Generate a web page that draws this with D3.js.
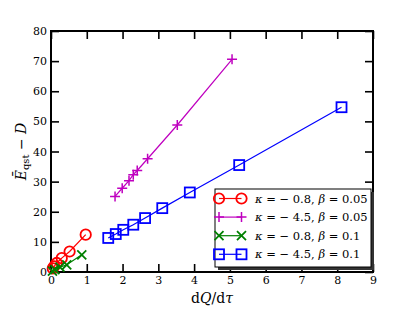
<!DOCTYPE html>
<html>
<head>
<meta charset="utf-8">
<script src="https://cdn.jsdelivr.net/npm/d3@7/dist/d3.min.js"></script>
<style>
  html, body { margin: 0; padding: 0; background: #fff; }
  svg { display: block; }
  text { font-family: "DejaVu Serif", "Liberation Serif", serif; fill: #000; }
</style>
</head>
<body>
<div id="chart"></div>
<script>
"use strict";

// values
const xTicks = [0, 1, 2, 3, 4, 5, 6, 7, 8, 9];
const yTicks = [0, 10, 20, 30, 40, 50, 60, 70, 80];

const redX = [0.05, 0.09, 0.16, 0.30, 0.52, 0.97];
const redY = [1.2, 1.9, 3.0, 4.6, 6.8, 12.4];

const magentaX = [1.79, 1.99, 2.18, 2.30, 2.41, 2.70, 3.53, 5.06];
const magentaY = [25.1, 27.8, 30.3, 32.3, 33.7, 37.6, 48.8, 70.6];

const greenX = [0.04, 0.11, 0.25, 0.44, 0.86];
const greenY = [0.3, 0.8, 1.6, 2.4, 5.7];

const blueX = [1.60, 1.81, 2.02, 2.30, 2.63, 3.11, 3.88, 5.26, 8.12];
const blueY = [11.3, 12.6, 14.0, 15.7, 17.9, 21.2, 26.4, 35.5, 54.7];

const seriesKappa = ["\u22120.8", "\u22124.5", "\u22120.8", "\u22124.5"];
const seriesBeta = ["0.05", "0.05", "0.1", "0.1"];

const series = [
  { xs: redX, ys: redY, color: "#ff0000", marker: "circle" },
  { xs: magentaX, ys: magentaY, color: "#bf00bf", marker: "plus" },
  { xs: greenX, ys: greenY, color: "#008000", marker: "cross" },
  { xs: blueX, ys: blueY, color: "#0000ff", marker: "square" },
];

const W = 415, H = 314;
const margin = { left: 51, top: 31, right: 42, bottom: 42 };
const iw = W - margin.left - margin.right;
const ih = H - margin.top - margin.bottom;

const svg = d3.select("#chart").append("svg").attr("width", W).attr("height", H);
const g = svg.append("g").attr("transform", "translate(" + margin.left + "," + margin.top + ")");

const x = d3.scaleLinear().domain([0, 9]).range([0, iw]);
const y = d3.scaleLinear().domain([0, 80]).range([ih, 0]);

const tickLen = 8;
function styleAxis(sel, hideText) {
  sel.select(".domain").remove();
  sel.selectAll(".tick line").attr("stroke", "#000").attr("stroke-width", 1.6);
  sel.selectAll(".tick text").style("font-size", "11px");
  if (hideText) sel.selectAll(".tick text").remove();
}

g.append("g").attr("transform", "translate(0," + ih + ")")
  .call(d3.axisBottom(x).tickValues(xTicks).tickSizeInner(-tickLen).tickSizeOuter(0).tickPadding(4).tickFormat(d3.format("d")))
  .call(styleAxis, false);
g.append("g")
  .call(d3.axisTop(x).tickValues(xTicks).tickSizeInner(-tickLen).tickSizeOuter(0))
  .call(styleAxis, true);
g.append("g")
  .call(d3.axisLeft(y).tickValues(yTicks).tickSizeInner(-tickLen).tickSizeOuter(0).tickPadding(4).tickFormat(d3.format("d")))
  .call(styleAxis, false);
g.append("g").attr("transform", "translate(" + iw + ",0)")
  .call(d3.axisRight(y).tickValues(yTicks).tickSizeInner(-tickLen).tickSizeOuter(0))
  .call(styleAxis, true);

g.append("rect").attr("width", iw).attr("height", ih)
  .attr("fill", "none").attr("stroke", "#000").attr("stroke-width", 2);

function drawMarker(sel, kind, color) {
  if (kind === "circle") {
    sel.append("circle").attr("r", 5.2).attr("fill", "none").attr("stroke", color).attr("stroke-width", 1.8);
  } else if (kind === "square") {
    sel.append("rect").attr("x", -5).attr("y", -5).attr("width", 10).attr("height", 10)
      .attr("fill", "none").attr("stroke", color).attr("stroke-width", 1.8);
  } else if (kind === "plus") {
    sel.append("path").attr("d", "M-5,0H5M0,-5V5").attr("stroke", color).attr("stroke-width", 1.5);
  } else {
    sel.append("path").attr("d", "M-4.5,-4.5L4.5,4.5M-4.5,4.5L4.5,-4.5").attr("stroke", color).attr("stroke-width", 1.8);
  }
}

const plot = g.append("g");
series.forEach(function drawSeries(s) {
  const pts = s.xs.map(function pair(v, i) { return [v, s.ys[i]]; });
  plot.append("path").datum(pts)
    .attr("d", d3.line().x(function px(d) { return x(d[0]); }).y(function py(d) { return y(d[1]); }))
    .attr("fill", "none").attr("stroke", s.color).attr("stroke-width", 1.2);
  plot.selectAll(null).data(pts).join("g")
    .attr("transform", function at(d) { return "translate(" + x(d[0]) + "," + y(d[1]) + ")"; })
    .each(function mk() { drawMarker(d3.select(this), s.marker, s.color); });
});

// legend
const lg = svg.append("g").attr("transform", "translate(215,189)");
const lw = 156, lh = 78;
lg.append("rect").attr("x", 3).attr("y", 3).attr("width", lw).attr("height", lh).attr("fill", "#333");
lg.append("rect").attr("width", lw).attr("height", lh).attr("fill", "#fff").attr("stroke", "#000").attr("stroke-width", 1);
series.forEach(function legendRow(s, i) {
  const cy = 9.5 + i * 18.6;
  lg.append("line").attr("x1", 4).attr("x2", 26.5).attr("y1", cy).attr("y2", cy)
    .attr("stroke", s.color).attr("stroke-width", 1.2);
  [4, 26.5].forEach(function end(mx) {
    drawMarker(lg.append("g").attr("transform", "translate(" + mx + "," + cy + ")"), s.marker, s.color);
  });
  const t = lg.append("text").attr("x", 40).attr("y", cy + 4).style("font-size", "11.5px");
  t.append("tspan").style("font-style", "italic").text("\u03ba");
  t.append("tspan").text(" = " + seriesKappa[i].replace("\u2212", "\u2212 ") + ", ");
  t.append("tspan").style("font-style", "italic").text("\u03b2");
  t.append("tspan").text(" = " + seriesBeta[i]);
});

// axis labels
svg.append("text").attr("x", margin.left + iw / 2).attr("y", 303).attr("text-anchor", "middle")
  .style("font-size", "14px")
  .call(function lbl(t) {
    t.append("tspan").text("d");
    t.append("tspan").style("font-style", "italic").text("Q");
    t.append("tspan").text("/d");
    t.append("tspan").style("font-style", "italic").text("\u03c4");
  });

const yl = svg.append("text").attr("transform", "translate(26," + (margin.top + ih / 2) + ") rotate(-90)")
  .attr("text-anchor", "middle").style("font-size", "14px");
yl.append("tspan").style("font-style", "italic").text("\u0112");
yl.append("tspan").attr("dy", 3).style("font-size", "10px").text("qst");
yl.append("tspan").attr("dy", -3).text(" \u2212 ");
yl.append("tspan").style("font-style", "italic").text("D");
</script>
</body>
</html>
